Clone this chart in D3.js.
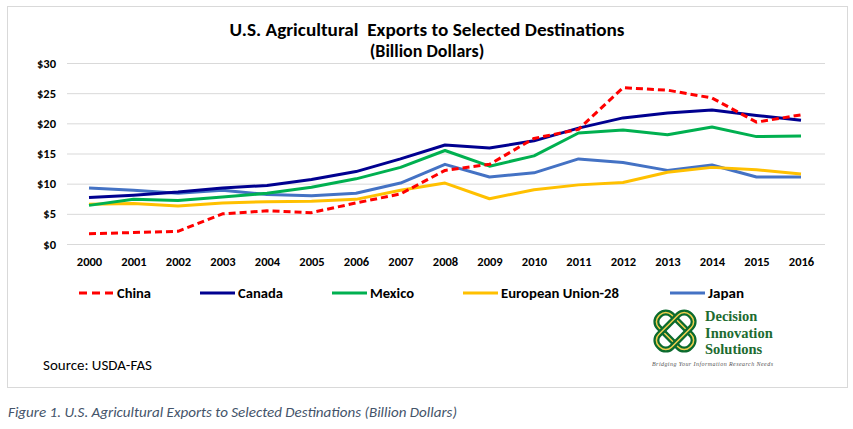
<!DOCTYPE html>
<html>
<head>
<meta charset="utf-8">
<script src="https://cdn.jsdelivr.net/npm/d3@7"></script>
<style>
body { margin: 0; background: #fff; }
svg text { font-family: Carlito, Lato, "Liberation Sans", sans-serif; }
</style>
</head>
<body>
<div id="chart"></div>
<script>
const years = [2000,2001,2002,2003,2004,2005,2006,2007,2008,2009,2010,2011,2012,2013,2014,2015,2016];
const china  = [1.7,1.9,2.1,5.0,5.5,5.2,6.8,8.3,12.2,13.2,17.5,19.0,25.9,25.5,24.2,20.2,21.4];
const canada = [7.7,8.1,8.6,9.3,9.7,10.7,12.0,14.1,16.4,15.9,17.1,19.2,20.9,21.7,22.2,21.3,20.5];
const mexico = [6.4,7.4,7.2,7.8,8.4,9.4,10.8,12.7,15.5,12.9,14.6,18.4,18.9,18.1,19.4,17.8,17.9];
const eu28   = [6.6,6.7,6.3,6.8,7.0,7.1,7.4,8.9,10.1,7.5,9.0,9.8,10.2,11.9,12.7,12.3,11.6];
const japan  = [9.3,8.9,8.4,8.9,8.2,8.0,8.4,10.1,13.2,11.1,11.8,14.1,13.5,12.2,13.1,11.1,11.1];
const y_ticks = [0,5,10,15,20,25,30];

// drawing order: last one ends on top
const series = [
	{name: 'Japan', values: japan, color: '#4472c4', dash: null},
	{name: 'European Union-28', values: eu28, color: '#ffc000', dash: null},
	{name: 'Mexico', values: mexico, color: '#00b050', dash: null},
	{name: 'Canada', values: canada, color: '#000090', dash: null},
	{name: 'China', values: china, color: '#ff0000', dash: '7,4'}
];
const legend_order = ['China','Canada','Mexico','European Union-28','Japan'];
const legend_x = [79,200,332,463,670];
const legend_len = [34,45,44,118,36];

const width = 853, height = 429;

const svg = d3.select('#chart').append('svg')
	.attr('width', width)
	.attr('height', height);

// outer frame
svg.append('rect')
	.attr('x', 7.5).attr('y', 6.5)
	.attr('width', 840).attr('height', 381)
	.attr('fill', '#fff')
	.attr('stroke', '#d9d9d9')
	.attr('stroke-width', 1);

// title
svg.append('text')
	.attr('x', 427).attr('y', 36)
	.attr('text-anchor', 'middle')
	.attr('font-size', 18).attr('font-weight', 'bold').attr('fill', '#000')
	.attr('xml:space', 'preserve')
	.attr('textLength', 395).attr('lengthAdjust', 'spacingAndGlyphs')
	.text('U.S. Agricultural  Exports to Selected Destinations');
svg.append('text')
	.attr('x', 427).attr('y', 57)
	.attr('text-anchor', 'middle')
	.attr('font-size', 18).attr('font-weight', 'bold').attr('fill', '#000')
	.text('(Billion Dollars)');

let x = d3.scalePoint()
	.domain(years)
	.range([89, 801]);

let y = d3.scaleLinear()
	.domain([0, 30])
	.range([244, 63]);

// gridlines
let grid = svg.append('g')
	.attr('transform', 'translate(67,0)')
	.call(d3.axisLeft(y).tickValues(y_ticks).tickSize(-758).tickFormat(''));
grid.select('.domain').remove();
grid.selectAll('line').attr('stroke', '#d9d9d9').attr('stroke-width', 1);

// y labels
let y_axis = svg.append('g')
	.attr('transform', 'translate(56,0)')
	.call(d3.axisLeft(y).tickValues(y_ticks).tickSize(0).tickPadding(0).tickFormat(d => '$' + d));
y_axis.select('.domain').remove();
y_axis.selectAll('text')
	.attr('font-size', 12.5).attr('font-weight', 'bold').attr('fill', '#000')
	.style('font-family', 'Carlito, Lato, sans-serif');

// x labels
let x_axis = svg.append('g')
	.attr('transform', 'translate(0,257)')
	.call(d3.axisBottom(x).tickSize(0).tickPadding(0).tickFormat(d => d));
x_axis.select('.domain').remove();
x_axis.selectAll('text')
	.attr('font-size', 12.5).attr('font-weight', 'bold').attr('fill', '#000')
	.style('font-family', 'Carlito, Lato, sans-serif');

// lines
let line = d3.line()
	.x((d, i) => x(years[i]))
	.y(d => y(d));

series.forEach(function (s) {
	svg.append('path')
		.datum(s.values)
		.attr('d', line)
		.attr('fill', 'none')
		.attr('stroke', s.color)
		.attr('stroke-width', 3)
		.attr('stroke-linejoin', 'round')
		.attr('stroke-dasharray', s.dash);
});

// legend
legend_order.forEach(function (name, i) {
	let s = series.find(d => d.name == name);
	let g = svg.append('g').attr('transform', 'translate(' + legend_x[i] + ',293)');
	g.append('line')
		.attr('x1', 0).attr('x2', 35)
		.attr('stroke', s.color).attr('stroke-width', 3)
		.attr('stroke-dasharray', s.dash ? '8,5' : null);
	g.append('text')
		.attr('x', 38).attr('y', 5)
		.attr('font-size', 13.5).attr('font-weight', 'bold').attr('fill', '#000')
		.attr('textLength', legend_len[i]).attr('lengthAdjust', 'spacingAndGlyphs')
		.text(name);
});

// source
svg.append('text')
	.attr('x', 43).attr('y', 370)
	.attr('font-size', 14).attr('fill', '#000')
	.attr('textLength', 109).attr('lengthAdjust', 'spacingAndGlyphs')
	.text('Source: USDA-FAS');

// logo
let logo = svg.append('g').attr('transform', 'translate(675,331)');
[45, -45].forEach(function (a) {
	logo.append('rect')
		.attr('x', -22).attr('y', -9)
		.attr('width', 44).attr('height', 18)
		.attr('rx', 8)
		.attr('transform', 'rotate(' + a + ')')
		.attr('fill', 'none')
		.attr('stroke', '#0b6b2e').attr('stroke-width', 6);
	logo.append('rect')
		.attr('x', -22).attr('y', -9)
		.attr('width', 44).attr('height', 18)
		.attr('rx', 8)
		.attr('transform', 'rotate(' + a + ')')
		.attr('fill', 'none')
		.attr('stroke', '#f2d04e').attr('stroke-width', 1.5);
});
let logo_text = ['Decision', 'Innovation', 'Solutions'];
logo_text.forEach(function (t, i) {
	svg.append('text')
		.attr('x', 705).attr('y', 321 + i * 16.5)
		.attr('font-size', 14.5).attr('font-weight', 'bold').attr('fill', '#1d6b30')
		.style('font-family', '"Liberation Serif", serif')
		.text(t);
});
svg.append('text')
	.attr('x', 652).attr('y', 366)
	.attr('font-size', 6).attr('font-style', 'italic').attr('fill', '#555')
	.attr('textLength', 121)
	.style('font-family', '"Liberation Serif", serif')
	.text('Bridging Your Information Research Needs');

// caption
svg.append('text')
	.attr('x', 8).attr('y', 417)
	.attr('font-size', 14).attr('font-style', 'italic').attr('fill', '#44546a')
	.attr('textLength', 449).attr('lengthAdjust', 'spacingAndGlyphs')
	.text('Figure 1. U.S. Agricultural Exports to Selected Destinations (Billion Dollars)');
</script>
</body>
</html>
